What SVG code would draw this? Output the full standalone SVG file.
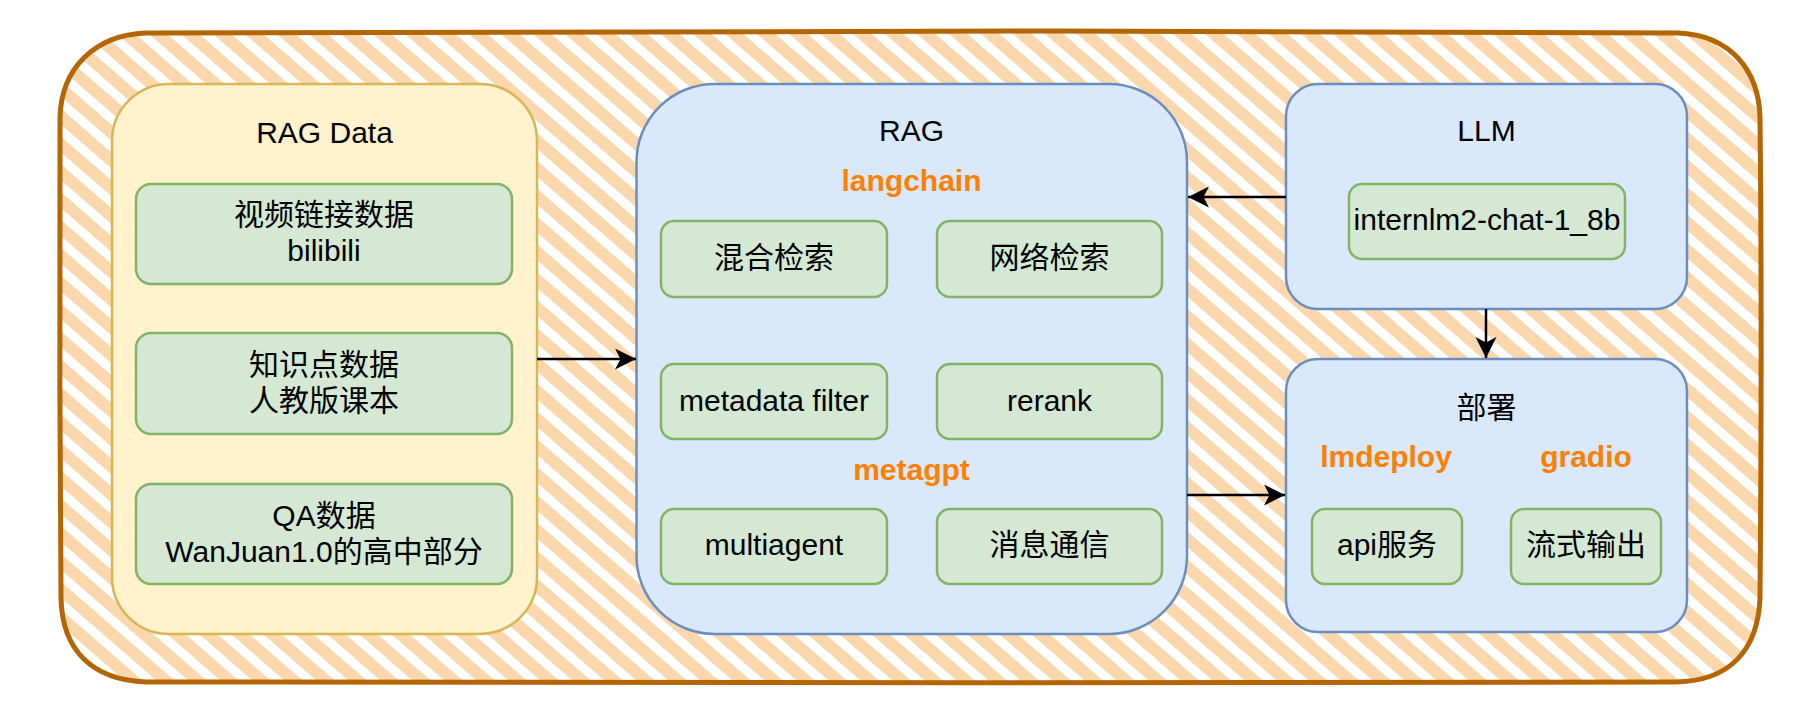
<svg xmlns="http://www.w3.org/2000/svg" width="1808" height="728" viewBox="0 0 1808 728">
<style>
  text { font-family: "Liberation Sans", "Noto Sans CJK SC", sans-serif; font-size: 30px; fill: #000; text-anchor: middle; }
  .tag { font-weight: bold; fill: #FF8000; }
  .green { fill: #d5e8d4; stroke: #82b366; stroke-width: 2.5; }
  .blue { fill: #dae8fc; stroke: #6c8ebf; stroke-width: 2.5; }
  .yellow { fill: #fff2cc; stroke: #d6b656; stroke-width: 2.5; }
  .edge { fill: none; stroke: #000; stroke-width: 2.5; marker-end: url(#arrow); }
</style>
<defs>
  <pattern id="hatch" patternUnits="userSpaceOnUse" width="21" height="21" patternTransform="rotate(41)">
    <rect x="0" y="0" width="21" height="21" fill="#ffffff"/>
    <rect x="0" y="0" width="21" height="12" fill="#fad7ac"/>
  </pattern>
  <clipPath id="outerClip">
    <rect x="60" y="32" width="1701" height="650" rx="85" ry="85"/>
  </clipPath>
  <marker id="arrow" markerUnits="userSpaceOnUse" markerWidth="22" markerHeight="22" refX="21" refY="10.5" orient="auto">
    <path d="M0,0 L21,10.5 L0,21 L5.5,10.5 Z" fill="#000"/>
  </marker>
</defs>
<rect width="1808" height="728" fill="#ffffff"/>
<g id="outer">
  <rect x="60" y="32" width="1701" height="650" fill="url(#hatch)" clip-path="url(#outerClip)"/>
  <path d="M146,33 C500,29 1200,31 1678,33 C1730,35 1759,70 1760,118 C1762,300 1761,480 1760,598 C1758,650 1730,681 1676,682 C1200,683 600,683 146,682 C92,680 62,650 61,598 C60,450 59,250 60,118 C61,68 95,35 146,33 Z" fill="none" stroke="#b46504" stroke-width="5" stroke-linejoin="round"/>
</g>
<g id="rag-data">
  <rect class="yellow" x="112" y="84" width="425" height="550" rx="57" ry="57"/>
  <text x="324.5" y="143">RAG Data</text>
</g>
<g id="video-data">
  <rect class="green" x="136" y="184" width="376" height="100" rx="15" ry="15"/>
  <text x="324" y="225">视频链接数据</text>
  <text x="324" y="261">bilibili</text>
</g>
<g id="knowledge-data">
  <rect class="green" x="136" y="333" width="376" height="101" rx="15" ry="15"/>
  <text x="324" y="375">知识点数据</text>
  <text x="324" y="411">人教版课本</text>
</g>
<g id="qa-data">
  <rect class="green" x="136" y="484" width="376" height="100" rx="15" ry="15"/>
  <text x="324" y="526">QA数据</text>
  <text x="324" y="562">WanJuan1.0的高中部分</text>
</g>
<g id="rag">
  <rect class="blue" x="636.5" y="84" width="550.5" height="550" rx="78" ry="78"/>
  <text x="911.5" y="141">RAG</text>
  <text class="tag" x="911.5" y="191">langchain</text>
  <text class="tag" x="911.5" y="480">metagpt</text>
</g>
<g id="hybrid-search">
  <rect class="green" x="661" y="221" width="226" height="76" rx="13" ry="13"/>
  <text x="774" y="268">混合检索</text>
</g>
<g id="web-search">
  <rect class="green" x="937" y="221" width="225" height="76" rx="13" ry="13"/>
  <text x="1049.5" y="268">网络检索</text>
</g>
<g id="metadata-filter">
  <rect class="green" x="661" y="364" width="226" height="75" rx="13" ry="13"/>
  <text x="774" y="411">metadata filter</text>
</g>
<g id="rerank">
  <rect class="green" x="937" y="364" width="225" height="75" rx="13" ry="13"/>
  <text x="1049.5" y="411">rerank</text>
</g>
<g id="multiagent">
  <rect class="green" x="661" y="509" width="226" height="75" rx="13" ry="13"/>
  <text x="774" y="555">multiagent</text>
</g>
<g id="messaging">
  <rect class="green" x="937" y="509" width="225" height="75" rx="13" ry="13"/>
  <text x="1049.5" y="555">消息通信</text>
</g>
<g id="llm">
  <rect class="blue" x="1286" y="84" width="401" height="225" rx="32" ry="32"/>
  <text x="1486.5" y="141">LLM</text>
</g>
<g id="internlm">
  <rect class="green" x="1349" y="184" width="276" height="75" rx="13" ry="13"/>
  <text x="1487" y="230">internlm2-chat-1_8b</text>
</g>
<g id="deploy">
  <rect class="blue" x="1286" y="359" width="401" height="273" rx="32" ry="32"/>
  <text x="1486.5" y="418">部署</text>
  <text class="tag" x="1386" y="467">lmdeploy</text>
  <text class="tag" x="1586" y="467">gradio</text>
</g>
<g id="api-service">
  <rect class="green" x="1312" y="509" width="150" height="75" rx="13" ry="13"/>
  <text x="1387" y="555">api服务</text>
</g>
<g id="stream-output">
  <rect class="green" x="1511" y="509" width="150" height="75" rx="13" ry="13"/>
  <text x="1586" y="555">流式输出</text>
</g>
<g id="connectors">
  <path class="edge" d="M537,359 L636,359"/>
  <path class="edge" d="M1286,197 L1188,197"/>
  <path class="edge" d="M1486,309 L1486,358"/>
  <path class="edge" d="M1187,495 L1285,495"/>
</g>
</svg>
